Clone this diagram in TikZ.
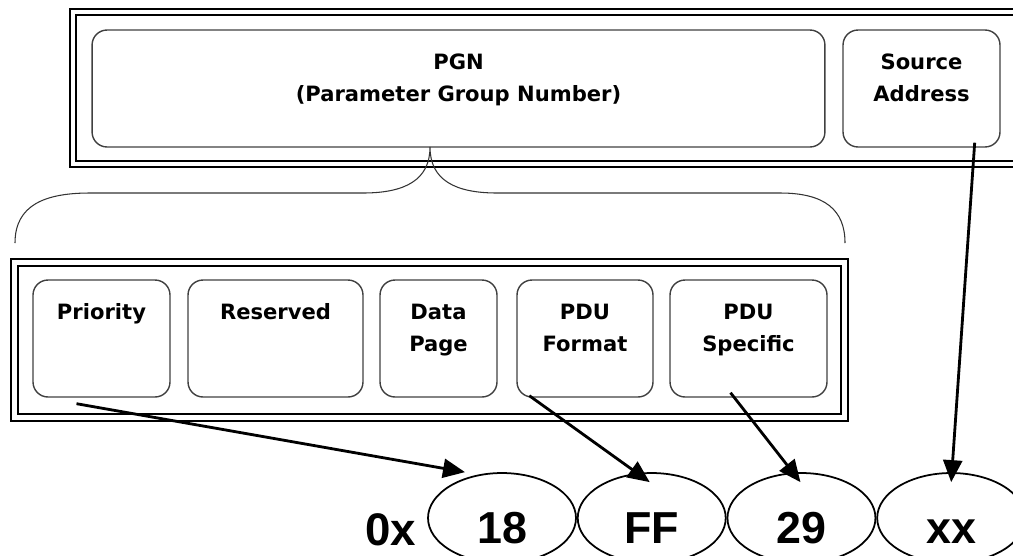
\documentclass[tikz,border=0pt]{standalone}
\usepackage{fontspec}
\setmainfont{DejaVu Sans}
\newfontfamily\numfont{Liberation Sans}
\usetikzlibrary{arrows.meta,positioning,shapes.geometric}

\begin{document}
\begin{tikzpicture}[x=0.02cm,y=-0.02cm,
    field/.style={draw=black!75,line width=0.8pt,rounded corners=0.3cm,
                  minimum height=2.34cm,inner sep=0pt,
                  text height=0.79cm,text depth=1.55cm,
                  font=\fontsize{12}{18}\selectfont\bfseries,align=center},
    twoline/.style={text height=1.43cm,text depth=0.91cm},
    byte/.style={ellipse,draw,line width=1pt,
                 minimum width=2.96cm,minimum height=1.8cm,inner sep=0pt,
                 text height=1cm,text depth=0pt,
                 font=\numfont\fontsize{25.5}{28}\selectfont\bfseries},
    frameout/.style={line width=1.6pt},
    framein/.style={line width=1pt},
    arr/.style={-{Triangle[length=0.44cm,width=0.38cm]},line width=1.6pt},
    brace/.style={line width=0.6pt,draw=black!80}]
    \clip (0,0) rectangle (1013,555);
    \useasboundingbox (0,0) rectangle (1013,555);
    % 29-bit identifier
    \draw[frameout] (70,9) rectangle (1030,167);
    \draw[framein] (76,15) rectangle (1030,161);
    \node[field,twoline,minimum width=14.66cm] (pgn) at (458.5,88.5)
      {PGN\\(Parameter Group Number)};
    \node[field,twoline,minimum width=3.14cm] (src) at (921.5,88.5)
      {Source\\Address};
    \draw[brace] (15,243) .. controls (15,205) and (45,193) .. (90,193)
      -- (363,193) .. controls (405,193) and (430,180) .. (430,147)
      .. controls (430,180) and (455,193) .. (497,193)
      -- (780,193) .. controls (825,193) and (845,210) .. (845,243);
    % PGN fields
    \draw[frameout] (11,259) rectangle (848,421);
    \draw[framein] (18,266) rectangle (841,414);
    \node[field,minimum width=2.74cm] (prio) at (101.5,338.5) {Priority};
    \node[field,minimum width=3.5cm] (rsv) at (275.5,338.5) {Reserved};
    \node[field,twoline,minimum width=2.34cm] (dp) at (438.5,338.5) {Data\\Page};
    \node[field,twoline,minimum width=2.72cm] (fmt) at (585,338.5) {PDU\\Format};
    \node[field,twoline,minimum width=3.14cm] (spec) at (748.5,338.5)
      {PDU\\Specific};
    % value
    \node[anchor=base,font=\numfont\fontsize{26}{28}\selectfont\bfseries]
      (pfx) at (391,545) {0x};
    \node[byte] (e18) at (502,518) {18};
    \node[byte,right=0pt of e18] (eff) {FF};
    \node[byte,right=0pt of eff] (e29) {29};
    \node[byte,right=0pt of e29] (exx) {xx};
    \draw[arr] ([shift={(-25,6)}]prio.south) -- ([shift={(-37,0)}]e18.north);
    \draw[arr] ([shift={(13,-2)}]fmt.south west) -- ([shift={(-2,10)}]eff.north);
    \draw[arr] ([shift={(-18,-5)}]spec.south) -- ([shift={(-1,10)}]e29.north);
    \draw[arr] ([shift={(-26,-5)}]src.south east) -- ([shift={(0,10)}]exx.north);
\end{tikzpicture}
\end{document}
